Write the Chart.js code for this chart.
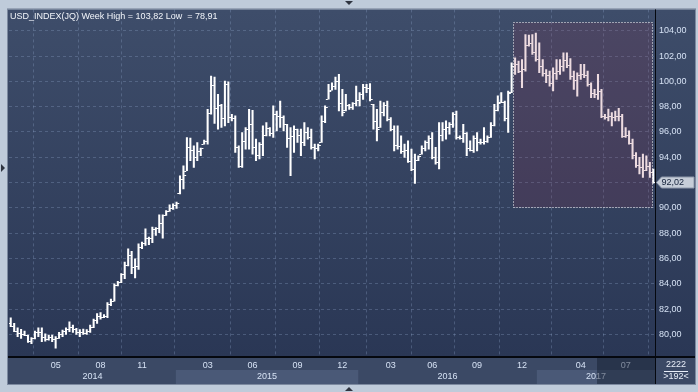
<!DOCTYPE html>
<html>
<head>
<meta charset="utf-8">
<script src="https://cdn.jsdelivr.net/npm/chart.js@4.4.1/dist/chart.umd.min.js"></script>
<style>
  html, body { margin: 0; padding: 0; background: #bfcbda; overflow: hidden; }
  #wrap { width: 698px; height: 392px; }
</style>
</head>
<body>
<div id="wrap"><canvas id="chart" width="698" height="392"></canvas></div>
<script>
// USD index, weekly bars Feb 2014 - Aug 2017
const weekOpen = [
  80.90, 80.65, 80.30, 80.10, 80.00, 79.95, 79.45, 79.70, 80.15, 80.20,
  79.80, 79.65, 79.80, 79.60, 79.75, 80.00, 80.25, 80.40, 80.55, 80.40,
  80.15, 80.20, 80.10, 80.30, 80.60, 81.15, 81.45, 81.40, 81.45, 82.40,
  82.65, 83.90, 84.10, 84.75, 85.50, 86.30, 85.30, 85.40, 86.90, 87.25,
  87.60, 87.60, 88.30, 88.40, 88.80, 89.40, 89.75, 90.00, 90.25, 91.15,
  92.30, 92.95, 94.80, 94.60, 94.00, 94.50, 95.05, 95.30, 97.50, 99.70,
  97.90, 98.10, 97.10, 99.80, 97.20, 97.10, 94.80, 93.30, 95.30, 96.25,
  96.60, 94.80, 94.20, 95.05, 95.80, 96.30, 95.90, 97.40, 97.30, 97.20,
  96.60, 95.50, 95.70, 96.20, 95.80, 95.20, 96.00, 95.60, 94.80, 94.70,
  95.17, 96.90, 98.60, 99.30, 99.60, 100.00, 98.30, 97.70, 98.10, 98.00,
  98.30, 98.50, 99.00, 99.55, 99.50, 98.19, 96.90, 96.40, 97.60, 98.10,
  97.05, 96.20, 95.00, 94.90, 94.50, 94.60, 93.70, 93.10, 93.80, 94.25,
  94.70, 95.20, 95.50, 94.00, 93.60, 95.80, 96.20, 96.40, 96.60, 97.40,
  95.60, 95.50, 95.90, 94.70, 94.60, 95.50, 95.20, 95.20, 95.30, 95.60,
  96.55, 97.70, 98.35, 98.40, 97.10, 99.15, 101.20, 101.40, 100.80, 101.00,
  102.90, 103.00, 102.30, 101.80, 101.20, 100.70, 100.50, 99.90, 100.70, 100.80,
  101.20, 101.70, 101.30, 100.40, 100.10, 100.50, 100.60, 100.50, 99.80, 99.10,
  99.00, 99.20, 97.30, 97.20, 97.30, 97.20, 97.25, 97.30, 95.70, 95.80,
  95.15, 94.20, 93.40, 93.20, 93.00, 93.30, 92.80
];
const weekHigh = [
  81.31, 80.87, 80.52, 80.39, 80.26, 79.95, 79.74, 80.26, 80.52, 80.52,
  80.05, 79.95, 79.95, 79.82, 80.16, 80.34, 80.52, 81.00, 80.73, 80.47,
  80.37, 80.42, 80.37, 80.73, 81.21, 81.65, 81.73, 81.57, 82.52, 82.78,
  83.99, 84.20, 84.80, 85.72, 86.77, 86.56, 85.98, 87.16, 87.30, 88.35,
  87.69, 88.48, 88.45, 89.45, 89.45, 89.79, 90.24, 90.31, 90.45, 92.54,
  93.33, 95.56, 95.51, 94.91, 95.17, 94.72, 95.35, 97.79, 100.42, 100.34,
  98.98, 98.19, 100.03, 99.97, 97.40, 97.27, 94.91, 95.96, 96.35, 97.79,
  97.72, 95.43, 95.17, 96.48, 96.74, 96.35, 98.06, 97.66, 98.45, 97.27,
  96.61, 96.35, 96.48, 96.22, 96.22, 96.74, 96.35, 96.22, 95.04, 95.04,
  97.27, 98.06, 99.76, 99.89, 100.34, 100.55, 99.37, 98.98, 98.19, 98.32,
  99.63, 99.11, 99.76, 99.76, 99.82, 98.19, 97.79, 98.45, 98.32, 98.45,
  97.14, 96.48, 96.48, 95.69, 95.04, 95.30, 94.64, 94.25, 94.12, 94.91,
  95.30, 95.69, 95.96, 94.78, 96.74, 96.74, 96.88, 96.74, 97.53, 97.66,
  95.69, 96.61, 95.96, 95.30, 95.69, 95.96, 95.43, 96.35, 95.69, 96.74,
  98.19, 98.85, 99.11, 98.45, 99.24, 101.47, 101.86, 101.60, 101.73, 103.70,
  103.65, 103.70, 103.82, 103.04, 101.73, 100.94, 100.81, 101.08, 101.73, 101.73,
  102.26, 102.26, 101.81, 100.81, 100.68, 101.34, 101.34, 100.81, 99.89, 99.37,
  100.55, 99.37, 97.40, 97.80, 97.53, 97.66, 97.87, 97.40, 96.35, 96.09,
  95.43, 94.38, 93.99, 94.25, 94.12, 93.60, 93.07
];
const weekLow = [
  80.60, 80.21, 79.82, 79.68, 79.89, 79.37, 79.26, 79.63, 79.82, 79.42,
  79.47, 79.55, 79.42, 78.91, 79.68, 79.82, 80.00, 80.21, 80.16, 80.00,
  79.82, 80.00, 80.00, 80.16, 80.52, 80.87, 81.21, 81.31, 81.31, 82.26,
  82.62, 83.83, 84.09, 84.41, 85.41, 84.80, 84.46, 85.14, 86.77, 87.03,
  87.09, 87.24, 87.82, 88.03, 87.61, 89.40, 89.71, 89.87, 89.95, 91.10,
  91.50, 92.94, 93.73, 93.20, 93.73, 94.12, 95.04, 95.04, 97.40, 96.67,
  96.22, 96.35, 96.48, 96.74, 96.88, 94.38, 93.20, 93.20, 94.64, 94.64,
  94.25, 93.73, 93.86, 94.12, 95.69, 95.69, 95.56, 96.09, 96.35, 96.09,
  94.78, 92.54, 94.38, 95.17, 94.12, 94.91, 95.43, 94.64, 93.86, 94.51,
  95.17, 96.74, 98.60, 99.30, 99.37, 97.66, 97.27, 97.66, 97.79, 97.79,
  98.06, 98.06, 98.58, 99.11, 98.45, 96.22, 95.30, 96.35, 97.27, 96.88,
  96.09, 94.51, 94.64, 94.30, 93.99, 93.59, 92.94, 91.94, 93.73, 94.25,
  94.51, 94.64, 93.86, 93.46, 93.07, 95.30, 95.43, 95.83, 96.35, 95.43,
  95.43, 95.17, 94.12, 94.51, 94.38, 94.51, 95.04, 95.04, 95.17, 95.56,
  96.48, 97.66, 98.32, 96.88, 95.96, 99.11, 100.55, 100.68, 99.50, 100.81,
  102.78, 102.13, 101.60, 100.68, 100.42, 99.89, 99.63, 99.24, 100.16, 100.55,
  100.81, 101.08, 100.16, 99.37, 98.84, 100.16, 100.29, 99.63, 98.71, 98.71,
  98.58, 97.14, 97.01, 96.88, 96.48, 96.88, 96.88, 95.56, 95.56, 95.04,
  93.86, 93.20, 92.68, 92.41, 92.94, 92.41, 91.95
];
const weekClose = [
  80.65, 80.30, 80.10, 80.00, 79.95, 79.45, 79.70, 80.15, 80.20, 79.80,
  79.65, 79.80, 79.60, 79.75, 80.00, 80.25, 80.40, 80.55, 80.40, 80.15,
  80.20, 80.10, 80.30, 80.60, 81.15, 81.45, 81.40, 81.45, 82.40, 82.65,
  83.90, 84.10, 84.75, 85.50, 86.30, 85.30, 85.40, 86.90, 87.25, 87.60,
  87.60, 88.30, 88.40, 88.80, 89.40, 89.75, 90.00, 90.25, 90.40, 92.30,
  92.60, 94.80, 94.60, 94.00, 94.50, 94.70, 95.30, 97.50, 99.70, 97.90,
  98.10, 97.10, 99.80, 97.20, 97.10, 94.80, 93.30, 95.30, 96.25, 96.60,
  94.80, 94.20, 95.05, 95.80, 96.30, 95.90, 97.40, 97.30, 97.20, 96.60,
  95.50, 95.70, 96.20, 95.80, 95.20, 96.00, 95.60, 94.80, 94.70, 95.00,
  96.90, 98.00, 99.20, 99.60, 100.00, 98.30, 97.60, 98.10, 98.00, 98.30,
  98.50, 99.00, 99.55, 99.50, 98.60, 96.90, 96.20, 97.60, 98.10, 97.05,
  96.20, 95.00, 94.90, 94.50, 94.60, 93.70, 93.10, 93.80, 94.10, 94.70,
  95.20, 95.50, 94.00, 93.60, 95.80, 96.20, 96.40, 96.60, 97.40, 95.60,
  95.50, 95.90, 94.70, 94.60, 95.50, 95.20, 95.20, 95.30, 95.60, 96.55,
  97.70, 98.30, 98.40, 97.10, 99.10, 101.20, 101.40, 100.80, 101.00, 102.90,
  103.00, 102.30, 101.80, 101.20, 100.70, 100.50, 99.90, 100.70, 100.80, 101.20,
  101.70, 101.30, 100.40, 100.10, 100.50, 100.60, 100.50, 99.80, 99.10, 99.00,
  99.20, 97.30, 97.20, 97.30, 97.20, 97.25, 97.30, 95.70, 95.80, 95.15,
  94.20, 93.40, 93.20, 93.00, 93.30, 92.80, 92.02
];

// axis labels
const monthTickWeeks = [13, 26, 38, 57, 70, 83, 96, 110, 122, 135, 148, 165, 178];
const monthTickLabels = ['05', '08', '11', '03', '06', '09', '12', '03', '06', '09', '12', '04', '07'];
const yearLabels = ['2014', '2015', '2016', '2017'];
const yearEdges = [-0.5, 47.8, 100.6, 152.3, 186.5];   // in week units
const priceTicks = [80, 82, 84, 86, 88, 90, 92, 94, 96, 98, 100, 102, 104];

// marked zone (weeks / price)
const zoneFrom = 145.5, zoneTo = 185.7, zoneHigh = 104.71, zoneLow = 90.06;

const FONT = "'Liberation Sans', Arial, sans-serif";
const BAR = '#ffffff';
const fmt = v => v.toFixed(2).replace('.', ',');
const lastClose = weekClose[weekClose.length - 1];
const titleText = 'USD_INDEX(JQ) Week High = ' + fmt(Math.max(...weekHigh)) +
  ' Low  = ' + fmt(Math.min(...weekLow));

const weeks = weekHigh.map((_, i) => i);

// background, frame and x-axis bands
const chromePlugin = {
  id: 'chrome',
  beforeDraw(chart) {
    const { ctx, chartArea: a } = chart;
    const xs = chart.scales.x;
    const W = chart.width, H = chart.height;
    const right = W - 3, bottom = H - 8;
    ctx.save();
    ctx.fillStyle = '#bfcbda';
    ctx.fillRect(0, 0, W, H);

    const g = ctx.createLinearGradient(0, a.top, 0, a.bottom);
    g.addColorStop(0, '#3e4d6a');
    g.addColorStop(1, '#2a3755');
    ctx.fillStyle = g;
    ctx.fillRect(a.left - 1, a.top, right - a.left + 1, a.bottom - a.top);

    // month + year rows
    ctx.fillStyle = '#3b4965';
    ctx.fillRect(a.left - 1, a.bottom, right - a.left + 1, bottom - a.bottom);
    const rowY = a.bottom + 13;
    ctx.font = '9px ' + FONT;
    ctx.textAlign = 'center';
    ctx.textBaseline = 'middle';
    yearLabels.forEach((yr, i) => {
      const x0 = Math.max(a.left, xs.getPixelForValue(yearEdges[i]));
      const x1 = Math.min(a.right, xs.getPixelForValue(yearEdges[i + 1]));
      if (i % 2 === 1) {
        ctx.fillStyle = '#4a5977';
        ctx.fillRect(x0, rowY, x1 - x0, bottom - rowY);
      }
      ctx.fillStyle = '#d6e2f4';
      ctx.fillText(yr, (x0 + x1) / 2, rowY + 6.5);
    });

    // corner box text
    const cx = (a.right + right) / 2 + 1;
    ctx.fillStyle = '#e8eef8';
    ctx.fillText('2222', cx, a.bottom + 7.5);
    ctx.fillRect(cx - 12, a.bottom + 14, 24, 1);
    ctx.fillText('>192<', cx, a.bottom + 20);

    // little arrows in the frame
    ctx.fillStyle = '#2f3440';
    ctx.beginPath(); ctx.moveTo(345, 1); ctx.lineTo(353, 1); ctx.lineTo(349, 5); ctx.fill();
    ctx.beginPath(); ctx.moveTo(345, 391); ctx.lineTo(353, 391); ctx.lineTo(349, 387); ctx.fill();
    ctx.beginPath(); ctx.moveTo(1, 164); ctx.lineTo(1, 172); ctx.lineTo(5, 168); ctx.fill();

    // frame edge
    ctx.strokeStyle = '#7d8aa0';
    ctx.lineWidth = 1;
    ctx.strokeRect(a.left - 1.5, a.top - 0.5, right - a.left + 2, bottom - a.top + 1);
    ctx.restore();
  },
  afterDraw(chart) {
    const { ctx, chartArea: a } = chart;
    const ys = chart.scales.y;
    const W = chart.width, H = chart.height;
    const right = W - 3, bottom = H - 8;
    ctx.save();
    // shaded end of the time axis
    ctx.fillStyle = 'rgba(18,26,44,0.45)';
    ctx.fillRect(a.right - 58, a.bottom, 58, bottom - a.bottom);
    // separators
    ctx.fillStyle = '#05080f';
    ctx.fillRect(a.left - 1, a.bottom - 1, right - a.left + 1, 2);
    ctx.fillRect(a.right, a.top, 1, bottom - a.top);

    // last price marker
    const py = Math.round(ys.getPixelForValue(lastClose)) + 0.5;
    const px = a.right + 1.5;
    ctx.beginPath();
    ctx.moveTo(px, py);
    ctx.lineTo(px + 5, py - 5.5);
    ctx.lineTo(right - 1, py - 5.5);
    ctx.lineTo(right - 1, py + 5.5);
    ctx.lineTo(px + 5, py + 5.5);
    ctx.closePath();
    ctx.fillStyle = '#c6cdd8';
    ctx.fill();
    ctx.strokeStyle = '#8e98aa';
    ctx.lineWidth = 1;
    ctx.stroke();
    ctx.fillStyle = '#14213a';
    ctx.font = '9px ' + FONT;
    ctx.textAlign = 'left';
    ctx.textBaseline = 'middle';
    ctx.fillText(fmt(lastClose), px + 5, py + 0.5);

    // title
    ctx.fillStyle = '#f2f5fa';
    ctx.textBaseline = 'alphabetic';
    ctx.fillText(titleText, a.left + 1, a.top + 10);
    ctx.restore();
  }
};

// open / close ticks and the marked zone
const ohlcPlugin = {
  id: 'ohlc',
  afterDatasetsDraw(chart) {
    const { ctx, chartArea: a } = chart;
    const xs = chart.scales.x, ys = chart.scales.y;
    const bars = chart.getDatasetMeta(0).data;
    ctx.save();
    ctx.beginPath();
    ctx.rect(a.left, a.top, a.right - a.left, a.bottom - a.top);
    ctx.clip();
    ctx.fillStyle = BAR;
    bars.forEach((bar, i) => {
      const yo = Math.round(ys.getPixelForValue(weekOpen[i]));
      const yc = Math.round(ys.getPixelForValue(weekClose[i]));
      ctx.fillRect(bar.x - 2.7, yo, 2, 1);
      ctx.fillRect(bar.x + 0.7, yc, 2, 1);
    });

    const zx0 = Math.round(xs.getPixelForValue(zoneFrom)) + 0.5;
    const zx1 = Math.round(xs.getPixelForValue(zoneTo)) + 0.5;
    const zy0 = Math.round(ys.getPixelForValue(zoneHigh)) + 0.5;
    const zy1 = Math.round(ys.getPixelForValue(zoneLow)) + 0.5;
    ctx.fillStyle = 'rgba(150,40,70,0.17)';
    ctx.fillRect(zx0, zy0, zx1 - zx0, zy1 - zy0);
    ctx.strokeStyle = '#ffffff';
    ctx.lineWidth = 1;
    ctx.setLineDash([1, 2]);
    ctx.strokeRect(zx0, zy0, zx1 - zx0, zy1 - zy0);
    ctx.restore();
  }
};

const gridColor = 'rgba(140,160,196,0.33)';

new Chart(document.getElementById('chart'), {
  type: 'bar',
  data: {
    datasets: [{
      data: weeks.map(i => ({ x: i, y: [weekLow[i], weekHigh[i]] })),
      backgroundColor: BAR,
      borderWidth: 0,
      barThickness: 1.4
    }]
  },
  options: {
    responsive: false,
    animation: false,
    devicePixelRatio: 1,
    layout: { padding: { left: 9, top: 8, right: 3, bottom: 8 } },
    plugins: { legend: { display: false }, tooltip: { enabled: false } },
    scales: {
      x: {
        type: 'linear',
        min: -0.5,
        max: weeks.length - 0.5,
        offset: false,
        afterBuildTicks: s => { s.ticks = monthTickWeeks.map(v => ({ value: v })); },
        afterFit: s => { s.height = 27; },
        ticks: {
          autoSkip: false,
          maxRotation: 0,
          padding: 3,
          color: '#d6e2f4',
          font: { family: FONT, size: 9 },
          callback: (v, i) => monthTickLabels[i]
        },
        grid: { color: gridColor, drawTicks: false },
        border: { display: false, dash: [3, 3] }
      },
      y: {
        position: 'right',
        min: 78.21,
        max: 105.69,
        afterBuildTicks: s => { s.ticks = priceTicks.map(v => ({ value: v })); },
        afterFit: s => { s.width = 40; },
        ticks: {
          padding: 4,
          color: '#d6e2f4',
          font: { family: FONT, size: 9 },
          callback: v => fmt(v)
        },
        grid: { color: gridColor, drawTicks: false },
        border: { display: false, dash: [3, 3] }
      }
    }
  },
  plugins: [chromePlugin, ohlcPlugin]
});
</script>
</body>
</html>
